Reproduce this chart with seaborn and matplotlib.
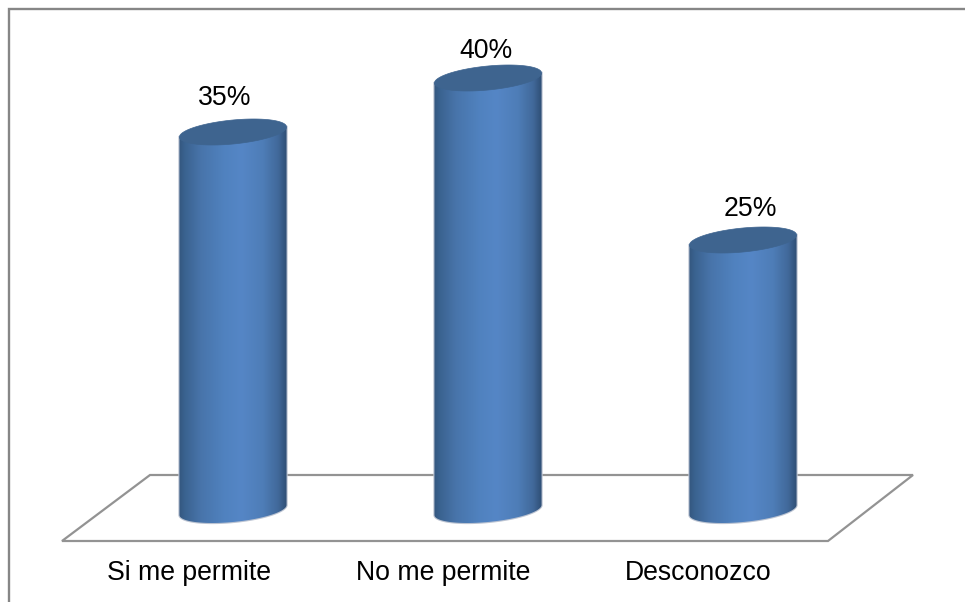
import numpy as np
import pandas as pd
import matplotlib
matplotlib.use("Agg")
import matplotlib.pyplot as plt
from matplotlib.colors import LinearSegmentedColormap
from matplotlib.lines import Line2D
from matplotlib.patches import PathPatch, Polygon
from matplotlib.path import Path
import seaborn as sns

categories = ["Si me permite", "No me permite", "Desconozco"]
values = [35, 40, 25]
value_labels = ["35%", "40%", "25%"]

W, H = 965, 602
sns.set_theme(style="white")
plt.rcParams["font.family"] = ["Liberation Sans", "DejaVu Sans"]

fig = plt.figure(figsize=(W / 100, H / 100), dpi=100, facecolor="white")
L, R, T, B = 9, 964, 9, 541
ax = fig.add_axes([L / W, 1 - B / H, (R - L) / W, (B - T) / H])
ax.patch.set_alpha(0)

df = pd.DataFrame({"category": categories, "value": values})
sns.barplot(data=df, x="category", y="value", color="#5080bd", width=0.42,
            saturation=1, ax=ax, zorder=3)

px_per_unit_x = 255.0
px_per_unit_y = 10.8
ax.set_xlabel("")
ax.set_ylabel("")
ax.set_yticks([])
ax.set_xticks(np.arange(len(categories)) - 0.174, categories)
ax.tick_params(axis="x", length=0, pad=13.5, labelsize=19.2, colors="black")
sns.despine(ax=ax, left=True, bottom=True, top=True, right=True)

# floor and outer frame, in pixels of the figure
def fig_xy(points):
    return [(x / W, 1 - y / H) for x, y in points]

floor = Polygon(fig_xy([(150, 475), (913, 475), (828, 541), (62, 541)]), closed=True,
                fill=False, edgecolor="#939393", linewidth=1.6,
                transform=fig.transFigure, zorder=0)
fig.add_artist(floor)
frame_pts = fig_xy([(9, H), (9, 9), (W, 9)])
frame = Line2D([p[0] for p in frame_pts], [p[1] for p in frame_pts], color="#868686",
               linewidth=1.7, transform=fig.transFigure, solid_joinstyle="miter")
fig.add_artist(frame)
ax.set_zorder(2)

# cylinders: the barplot rectangles give position, width and height
cmap = LinearSegmentedColormap.from_list(
    "cyl",
    [(0.0, "#34577f"), (0.05, "#3a628f"), (0.2, "#4874aa"), (0.42, "#5082bf"),
     (0.58, "#5586c6"), (0.78, "#4e7db7"), (0.92, "#41699a"), (1.0, "#2f4f75")])
grad = np.linspace(0, 1, 256).reshape(1, -1)

half_h = 12.0 / px_per_unit_y   # vertical half axis of the cap
tilt = 5.0 / px_per_unit_y      # left end lower, right end higher

def ellipse_pts(x0, width, yc, t):
    xc = x0 + width / 2
    return np.column_stack([xc - width / 2 * np.cos(t),
                            yc - half_h * np.sin(t) - tilt * np.cos(t)])

bars = [p for p in ax.patches]
for bar in bars:
    x0, w, h = bar.get_x(), bar.get_width(), bar.get_height()
    bar.set_visible(False)
    lower = ellipse_pts(x0, w, 0, np.linspace(0, np.pi, 80))
    upper_edge = np.array([[x0 + w, h + tilt], [x0, h - tilt]])
    verts = np.vstack([lower, upper_edge, lower[:1]])
    codes = [Path.MOVETO] + [Path.LINETO] * (len(verts) - 2) + [Path.CLOSEPOLY]
    body = Path(verts, codes)
    halo = PathPatch(body, facecolor="none", edgecolor="#bcc4d2", linewidth=1.6, zorder=2)
    ax.add_patch(halo)
    clip = PathPatch(body, transform=ax.transData, facecolor="none", edgecolor="none")
    ax.add_patch(clip)
    im = ax.imshow(grad, cmap=cmap, extent=[x0, x0 + w, -half_h * 2, h + half_h * 2],
                   aspect="auto", zorder=3, interpolation="bilinear")
    im.set_clip_path(clip)
    cap = Polygon(ellipse_pts(x0, w, h, np.linspace(0, 2 * np.pi, 160)), closed=True,
                  facecolor="#3e648f", edgecolor="#3e648f", linewidth=0.5, zorder=4)
    ax.add_patch(cap)

ax.set_xlim((L - 233) / px_per_unit_x, (R - 233) / px_per_unit_x)
ax.set_ylim(-(B - 510) / px_per_unit_y, (510 - T) / px_per_unit_y)

# value labels, nudged in points from the top of each bar
nudges = [(-5.8, 24.5), (-1.4, 19.8), (5, 22.5)]
for bar, text, (dx, dy) in zip(bars, value_labels, nudges):
    ax.annotate(text, (bar.get_x() + bar.get_width() / 2, bar.get_height()),
                xytext=(dx, dy), textcoords="offset points", ha="center", va="center",
                fontsize=19.2, color="black", zorder=5, annotation_clip=False)

fig.savefig("out.png", dpi=100)
